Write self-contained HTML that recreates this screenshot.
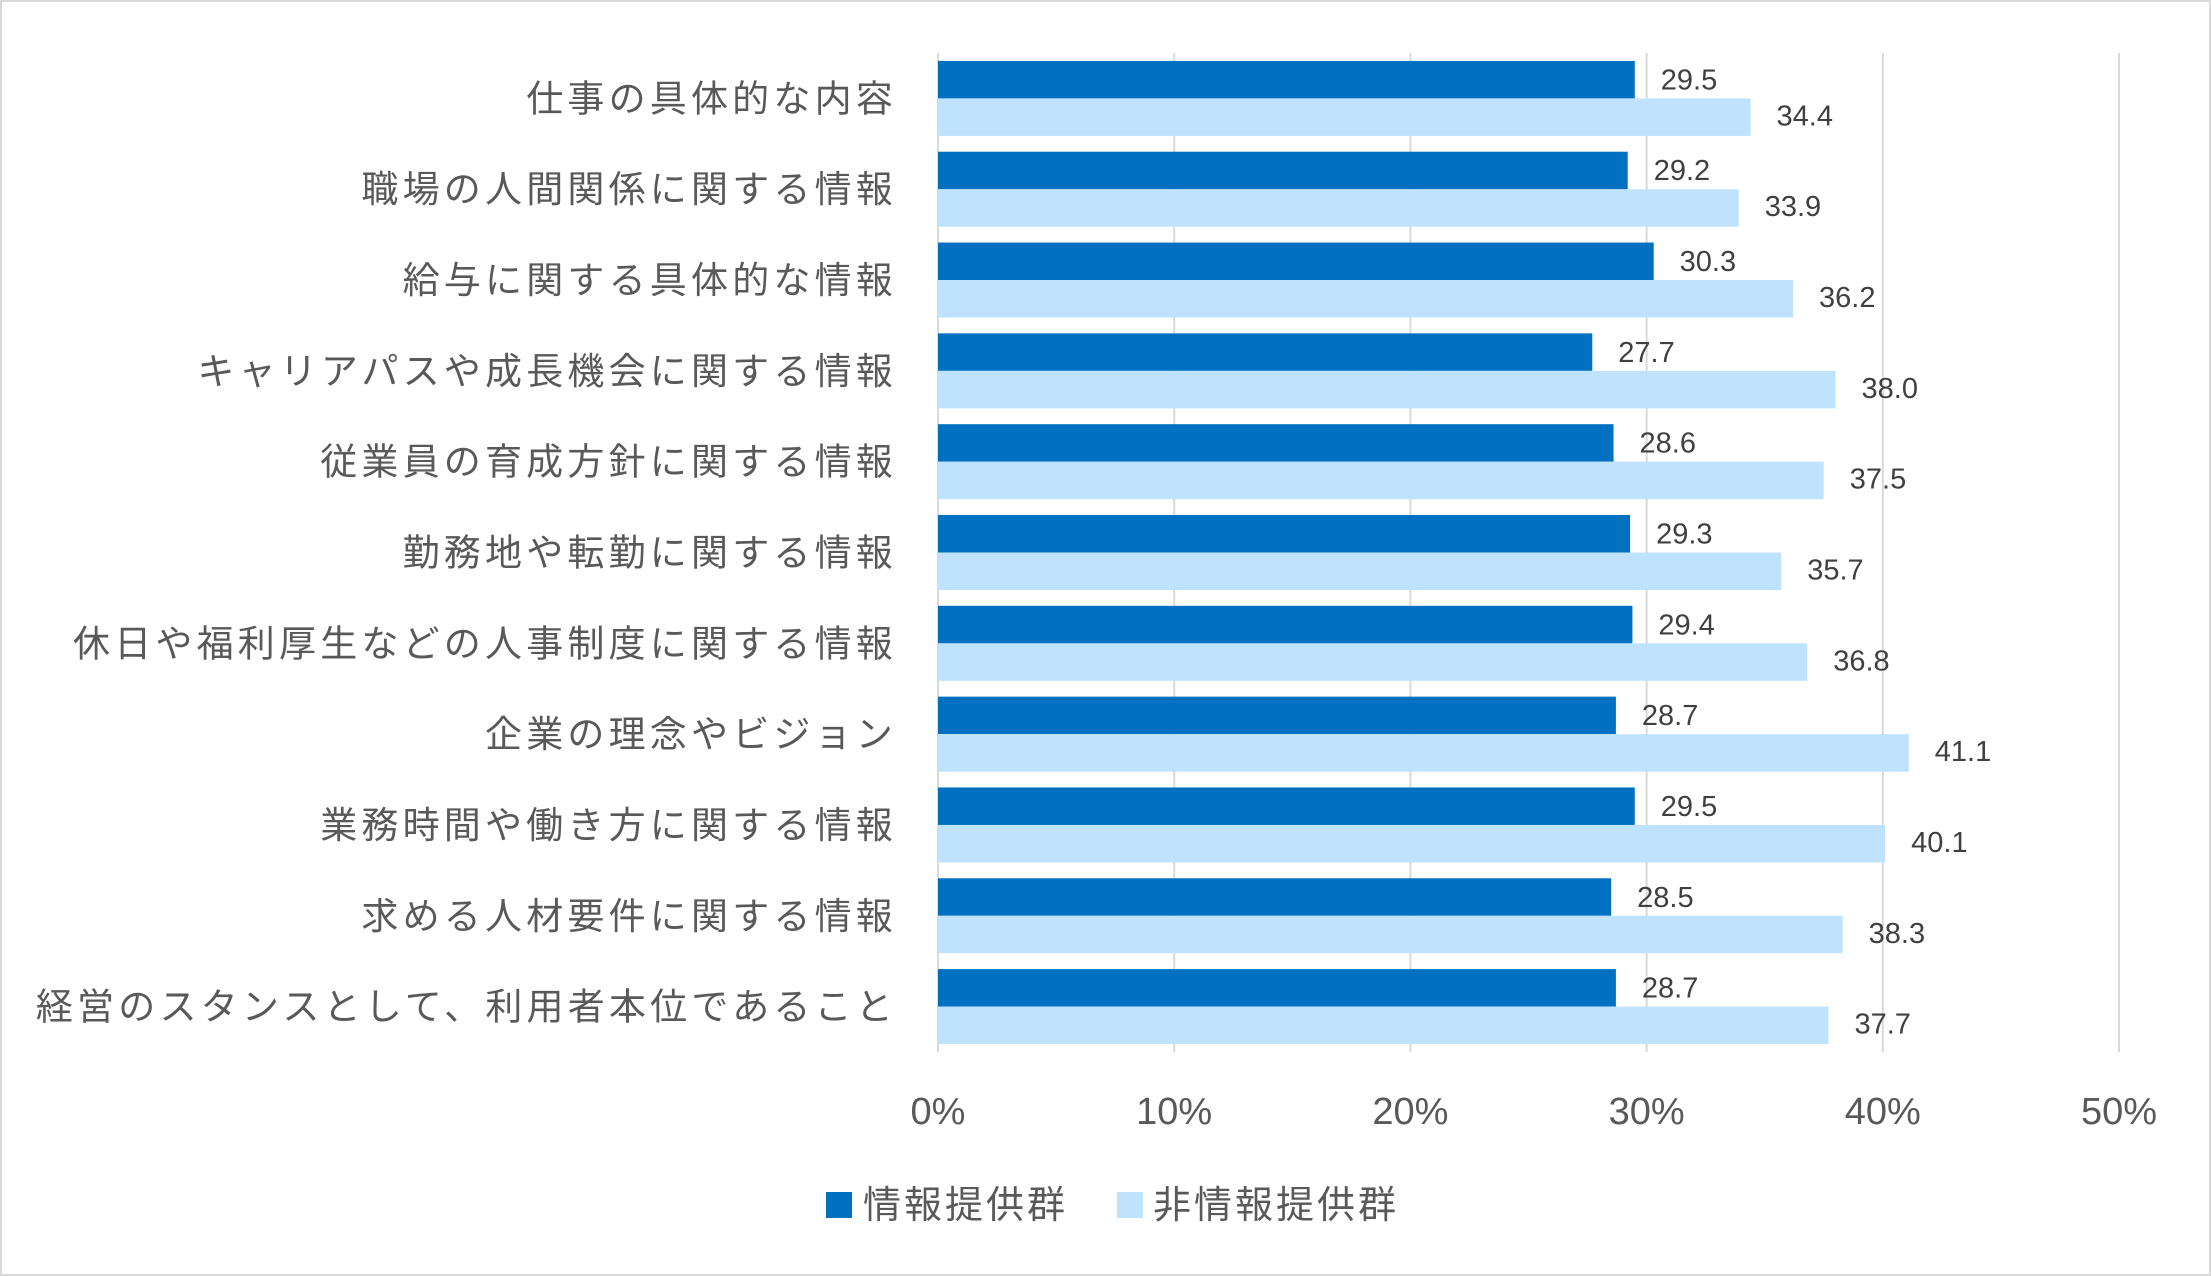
<!DOCTYPE html>
<html><head><meta charset="utf-8"><style>
html,body{margin:0;padding:0;background:#fff}
svg{display:block;font-family:"Liberation Sans","Noto Sans CJK JP",sans-serif}
</style></head><body>
<svg id="chart" width="2211" height="1276" viewBox="0 0 2211 1276">
<rect x="1" y="1" width="2209" height="1274" fill="#fff" stroke="#d9d9d9" stroke-width="2"/>
<g id="grid"></g><g id="bars"></g><g id="labels"></g>
<g>
<rect x="826" y="1192" width="26" height="26" fill="#0070C0"/>
<text x="863" y="1218" font-size="38" letter-spacing="3" fill="#595959">情報提供群</text>
<rect x="1117" y="1192" width="26" height="26" fill="#BFE3FE"/>
<text x="1153" y="1218" font-size="38" letter-spacing="3" fill="#595959">非情報提供群</text>
</g>
</svg>
<script>
const categories=["仕事の具体的な内容","職場の人間関係に関する情報","給与に関する具体的な情報","キャリアパスや成長機会に関する情報","従業員の育成方針に関する情報","勤務地や転勤に関する情報","休日や福利厚生などの人事制度に関する情報","企業の理念やビジョン","業務時間や働き方に関する情報","求める人材要件に関する情報","経営のスタンスとして、利用者本位であること"];
const provided=[29.5,29.2,30.3,27.7,28.6,29.3,29.4,28.7,29.5,28.5,28.7];
const notProvided=[34.4,33.9,36.2,38.0,37.5,35.7,36.8,41.1,40.1,38.3,37.7];
const ticks=[0,10,20,30,40,50];
const NS="http://www.w3.org/2000/svg";
const x0=938,x1=2119,yTop=53,yBot=1052,xMax=50;
const xs=v=>x0+(x1-x0)*v/xMax;
const band=(yBot-yTop)/categories.length;
const barH=37.5;
function mk(tag,attrs,parent,text){const e=document.createElementNS(NS,tag);for(const k in attrs)e.setAttribute(k,attrs[k]);if(text!==undefined)e.textContent=text;parent.appendChild(e);return e;}
const grid=document.getElementById('grid'),bars=document.getElementById('bars'),labels=document.getElementById('labels');
ticks.forEach(t=>{
 const l=mk('line',{x1:xs(t),x2:xs(t),y1:yTop,y2:yBot,stroke:'#d9d9d9','stroke-width':2},grid);
 
 
 const tx=mk('text',{x:xs(t),y:1124,'font-size':38,fill:'#595959','text-anchor':'middle'},grid,t+'%');
 
 
});
categories.forEach((c,i)=>{
 const cy=yTop+band*i+band/2;
 const ct=mk('text',{x:897,y:cy+13,'font-size':37,'letter-spacing':4.2,fill:'#595959','text-anchor':'end'},labels,c);
 
 
 const b1=mk('rect',{x:x0,y:cy-barH,width:xs(provided[i])-x0,height:barH,fill:'#0070C0'},bars);
 
 
 const b2=mk('rect',{x:x0,y:cy,width:xs(notProvided[i])-x0,height:barH,fill:'#BFE3FE'},bars);
 
 
 const v1=mk('text',{x:xs(provided[i])+26,y:cy-9,'font-size':29,fill:'#404040'},labels,provided[i].toFixed(1));
 
 
 const v2=mk('text',{x:xs(notProvided[i])+26,y:cy+27,'font-size':29,fill:'#404040'},labels,notProvided[i].toFixed(1));
 
 
});
</script>
</body></html>
